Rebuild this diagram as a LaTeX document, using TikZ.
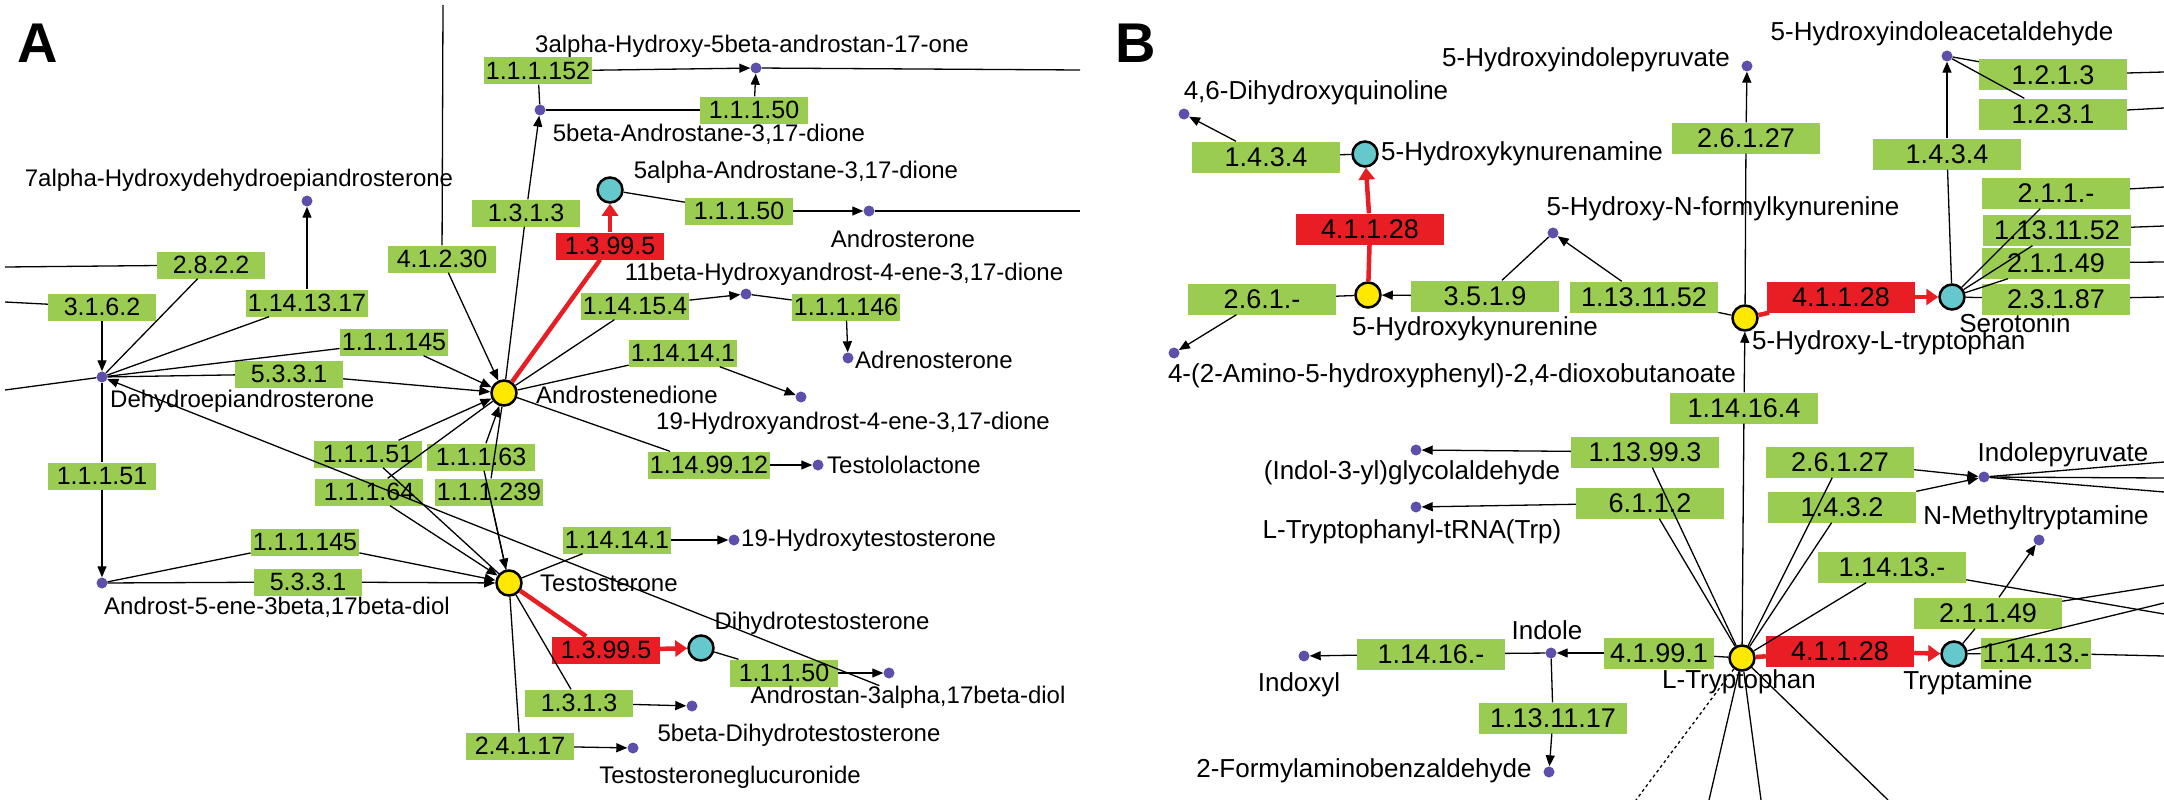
\documentclass[tikz,border=0pt]{standalone}
\usepackage{fontspec}
\setmainfont{Liberation Sans}
\usetikzlibrary{arrows.meta}
\definecolor{eg}{RGB}{155,204,82}
\definecolor{er}{RGB}{232,30,36}
\definecolor{dc}{RGB}{92,80,170}
\definecolor{cy}{RGB}{100,200,205}
\definecolor{yl}{RGB}{255,232,0}
\newcommand\lfA{\fontsize{24}{26}\selectfont}
\newcommand\lfB{\fontsize{26}{28}\selectfont}
\newcommand\bfA{\fontsize{25}{27}\selectfont}
\newcommand\bfB{\fontsize{27}{29}\selectfont}
\begin{document}
\begin{tikzpicture}[x=1pt,y=-1pt,
 bx/.style={fill=eg,inner xsep=2pt,inner ysep=0pt,minimum width=108pt,minimum height=27pt,font=\bfA},
 bxB/.style={bx,minimum width=148pt,minimum height=31pt,font=\bfB},
 rb/.style={bx,fill=er},
 rbB/.style={bxB,fill=er},
 dot/.style={circle,fill=dc,inner sep=0pt,minimum size=11pt},
 yn/.style={circle,fill=yl,draw=black,line width=2.5pt,inner sep=0pt,minimum size=25pt},
 cn/.style={yn,fill=cy},
 la/.style={inner sep=0pt,font=\lfA},
 lb/.style={inner sep=0pt,font=\lfB},
 e/.style={line width=1.3pt},
 a/.style={e,-{Triangle[length=11pt,width=9pt]}},
 re/.style={line width=4.5pt,er},
 ra/.style={re,-{Triangle[length=12pt,width=16pt]}}]
\useasboundingbox[fill=white] (0,0) rectangle (2164,800);
% ---------------- Panel A ----------------
\node[inner sep=0pt,font=\bfseries\fontsize{56}{56}\selectfont] (LA) at (38,43) {A};
\coordinate (tA) at (443,5);
\coordinate (rA1) at (1080,70);
\coordinate (rA2) at (1080,211);
\coordinate (lA1) at (5,267);
\coordinate (lA2) at (5,302);
\coordinate (lA3) at (5,364);
\coordinate (lA4) at (5,390);
\node[dot] (d3a) at (756,68) {};
\node[la] (l3a) at (752,46) {3alpha-Hydroxy-5beta-androstan-17-one};
\node[bx] (b152) at (538,71) {1.1.1.152};
\node[dot] (d5b) at (540,110) {};
\node[la] (l5b) at (709,134) {5beta-Androstane-3,17-dione};
\node[bx] (b150a) at (754,110) {1.1.1.50};
\node[la] (l7a) at (239,180) {7alpha-Hydroxydehydroepiandrosterone};
\node[dot] (d7a) at (307,201) {};
\node[cn] (c5a) at (610,190) {};
\node[la] (l5a) at (796,172) {5alpha-Androstane-3,17-dione};
\node[bx] (b150b) at (739,211) {1.1.1.50};
\node[dot] (dAnd) at (869,211) {};
\node[la] (lAnd) at (903,239) {Androsterone};
\node[rb] (r1) at (610,246) {1.3.99.5};
\node[bx] (b2822) at (211,265) {2.8.2.2};
\node[bx] (b4230) at (442,259) {4.1.2.30};
\node[bx] (b313a) at (526,213) {1.3.1.3};
\node[bx] (b3162) at (102,307) {3.1.6.2};
\node[bx] (b141317) at (307,303) {1.14.13.17};
\node[bx] (b14154) at (635,306) {1.14.15.4};
\node[dot] (d11b) at (746,294) {};
\node[la] (l11b) at (844,274) {11beta-Hydroxyandrost-4-ene-3,17-dione};
\node[bx] (b11146) at (846,307) {1.1.1.146};
\node[dot] (dAdr) at (848,358) {};
\node[la,anchor=west] (lAdr) at (855,360) {Adrenosterone};
\node[bx] (b11145a) at (394,342) {1.1.1.145};
\node[bx] (b5331a) at (289,374) {5.3.3.1};
\node[bx] (b14141a) at (683,353) {1.14.14.1};
\node[dot] (d19) at (801,397) {};
\node[la] (l19) at (853,423) {19-Hydroxyandrost-4-ene-3,17-dione};
\node[dot] (dDHEA) at (102,377) {};
\node[la,anchor=west] (lDHEA) at (110,401) {Dehydroepiandrosterone};
\node[yn] (yAnd) at (504,393) {};
\node[la,anchor=west] (lAndro) at (536,395) {Androstenedione};
\node[bx] (b141412) at (709,465) {1.14.99.12};
\node[dot] (dTest) at (818,465) {};
\node[la,anchor=west] (lTest) at (827,465) {Testololactone};
\node[bx] (b11151L) at (102,476) {1.1.1.51};
\node[dot] (dA5) at (102,583) {};
\node[la] (lA5) at (277,607) {Androst-5-ene-3beta,17beta-diol};
\node[bx] (b11151) at (368,454) {1.1.1.51};
\node[bx] (b11163) at (481,457) {1.1.1.63};
\node[bx] (b11164) at (369,492) {1.1.1.64};
\node[bx] (b111239) at (489,492) {1.1.1.239};
\node[yn] (yTes) at (509,583) {};
\node[la,anchor=west] (lTes) at (540,583) {Testosterone};
\node[bx] (b11145b) at (305,542) {1.1.1.145};
\node[bx] (b5331b) at (308,582) {5.3.3.1};
\node[bx] (b14141b) at (617,540) {1.14.14.1};
\node[dot] (d19T) at (734,540) {};
\node[la,anchor=west] (l19T) at (741,540) {19-Hydroxytestosterone};
\node[rb] (r2) at (606,650) {1.3.99.5};
\node[cn] (cDHT) at (701,648) {};
\node[la] (lDHT) at (822,623) {Dihydrotestosterone};
\node[bx] (b150c) at (784,673) {1.1.1.50};
\node[dot] (dA3) at (889,673) {};
\node[la] (lA3) at (908,697) {Androstan-3alpha,17beta-diol};
\node[bx] (b313b) at (579,703) {1.3.1.3};
\node[dot] (d5bD) at (692,706) {};
\node[la] (l5bD) at (799,735) {5beta-Dihydrotestosterone};
\node[bx] (b24117) at (520,746) {2.4.1.17};
\node[dot] (dTG) at (633,748) {};
\node[la] (lTG) at (730,777) {Testosteroneglucuronide};
% edges A
\draw[e] (tA) -- (b4230); \draw[a] (b4230) -- (yAnd);
\draw[a] (b152) -- (d3a); \draw[e] (d5b) -- (b152); \draw[e] (d3a) -- (rA1);
\draw[e] (d5b) -- (b150a); \draw[a] (b150a) -- (d3a);
\draw[e] (yAnd) -- (b313a); \draw[a] (b313a) -- (d5b);
\draw[re] (yAnd) -- (r1); \draw[ra] (r1) -- (c5a);
\draw[e] (c5a) -- (b150b); \draw[a] (b150b) -- (dAnd); \draw[e] (dAnd) -- (rA2);
\draw[e] (lA1) -- (b2822); \draw[e] (b2822) -- (dDHEA);
\draw[e] (lA2) -- (b3162); \draw[a] (b3162) -- (dDHEA);
\draw[e] (dDHEA) -- (b141317); \draw[a] (b141317) -- (d7a);
\draw[a] (lA3) -- (dDHEA); \draw[e] (lA4) -- (dDHEA);
\draw[e] (yAnd) -- (b14154); \draw[a] (b14154) -- (d11b);
\draw[e] (d11b) -- (b11146); \draw[a] (b11146) -- (dAdr);
\draw[e] (dDHEA) -- (b11145a); \draw[a] (b11145a) -- (yAnd);
\draw[e] (dDHEA) -- (b5331a); \draw[a] (b5331a) -- (yAnd);
\draw[e] (yAnd) -- (b14141a); \draw[a] (b14141a) -- (d19);
\draw[e] (yAnd) -- (b141412); \draw[a] (b141412) -- (dTest);
\draw[e] (dDHEA) -- (b11151L); \draw[a] (b11151L) -- (dA5);
\draw[e] (yTes) -- (b11151); \draw[a] (b11151) -- (yAnd);
\draw[e] (yTes) -- (b11163); \draw[a] (b11163) -- (yAnd);
\draw[e] (yAnd) -- (b11164); \draw[a] (b11164) -- (yTes);
\draw[e] (yAnd) -- (b111239); \draw[a] (b111239) -- (yTes);
\draw[e] (dA5) -- (b11145b); \draw[a] (b11145b) -- (yTes);
\draw[e] (dA5) -- (b5331b); \draw[a] (b5331b) -- (yTes);
\draw[e] (yTes) -- (b14141b); \draw[a] (b14141b) -- (d19T);
\draw[re] (yTes) -- (r2); \draw[ra] (r2) -- (cDHT);
\draw[e] (cDHT) -- (b150c); \draw[a] (b150c) -- (dA3);
\draw[e] (yTes) -- (b313b); \draw[a] (b313b) -- (d5bD);
\draw[e] (yTes) -- (b24117); \draw[a] (b24117) -- (dTG);
% ---------------- Panel B ----------------
\node[inner sep=0pt,font=\bfseries\fontsize{56}{56}\selectfont] (LB) at (1136,43) {B};
\node[lb] (l5HIA) at (1942,34) {5-Hydroxyindoleacetaldehyde};
\node[dot] (d5HIA) at (1947,56) {};
\node[bxB] (b1213) at (2053,75) {1.2.1.3};
\node[bxB] (b1231) at (2053,114) {1.2.3.1};
\node[lb] (l5HIP) at (1586,60) {5-Hydroxyindolepyruvate};
\node[dot] (d5HIP) at (1747,66) {};
\node[bxB] (b26127a) at (1746,138) {2.6.1.27};
\node[bxB] (b1434R) at (1947,154) {1.4.3.4};
\node[lb] (l46) at (1316,93) {4,6-Dihydroxyquinoline};
\node[dot] (d46) at (1184,114) {};
\node[bxB] (b1434L) at (1266,157) {1.4.3.4};
\node[cn] (c5HKA) at (1365,154) {};
\node[lb,anchor=west] (l5HKA) at (1381,154) {5-Hydroxykynurenamine};
\node[rbB] (r3) at (1370,229) {4.1.1.28};
\node[yn] (y5HK) at (1368,295) {};
\node[lb] (l5HK) at (1475,329) {5-Hydroxykynurenine};
\node[lb] (lNF) at (1723,209) {5-Hydroxy-N-formylkynurenine};
\node[dot] (dNF) at (1553,233) {};
\node[bxB] (b3519) at (1485,296) {3.5.1.9};
\node[bxB] (b131152a) at (1644,297) {1.13.11.52};
\node[bxB] (b261m) at (1262,299) {2.6.1.-};
\node[dot] (dAm) at (1174,353) {};
\node[lb] (lAm) at (1452,376) {4-(2-Amino-5-hydroxyphenyl)-2,4-dioxobutanoate};
\node[yn] (y5HTP) at (1745,318) {};
\node[lb,anchor=west] (l5HTP) at (1752,343) {5-Hydroxy-L-tryptophan};
\node[rbB] (r4) at (1841,297) {4.1.1.28};
\node[cn] (cSer) at (1952,297) {};
\node[lb] (lSer) at (2015,323) {Serotonin};
\node[bxB] (b211m) at (2056,193) {2.1.1.-};
\node[bxB] (b131152b) at (2057,230) {1.13.11.52};
\node[bxB] (b21149a) at (2056,263) {2.1.1.49};
\node[bxB] (b23187) at (2056,299) {2.3.1.87};
\node[bxB] (b14164) at (1744,408) {1.14.16.4};
\node[yn] (yTrp) at (1742,658) {};
\node[lb] (lTrp) at (1739,682) {L-Tryptophan};
\node[bxB] (b139993) at (1645,452) {1.13.99.3};
\node[dot] (dIG) at (1416,450) {};
\node[lb] (lIG) at (1412,473) {(Indol-3-yl)glycolaldehyde};
\node[bxB] (b6112) at (1650,503) {6.1.1.2};
\node[dot] (dTR) at (1416,507) {};
\node[lb] (lTR) at (1412,532) {L-Tryptophanyl-tRNA(Trp)};
\node[bxB] (b26127b) at (1840,462) {2.6.1.27};
\node[bxB] (b1432) at (1842,507) {1.4.3.2};
\node[dot] (dIP) at (1984,477) {};
\node[lb] (lIP) at (2063,455) {Indolepyruvate};
\node[lb] (lNM) at (2036,518) {N-Methyltryptamine};
\node[dot] (dNM) at (2039,540) {};
\node[bxB] (b11413a) at (1892,567) {1.14.13.-};
\node[bxB] (b21149b) at (1988,613) {2.1.1.49};
\node[cn] (cTry) at (1954,654) {};
\node[lb] (lTry) at (1968,683) {Tryptamine};
\node[bxB,minimum width=110pt] (b11413b) at (2036,653) {1.14.13.-};
\node[rbB] (r5) at (1840,651) {4.1.1.28};
\node[bxB,minimum width=110pt] (b41991) at (1659,653) {4.1.99.1};
\node[dot] (dInd) at (1551,653) {};
\node[lb] (lInd) at (1547,630) {Indole};
\node[bxB] (b14116) at (1431,654) {1.14.16.-};
\node[dot] (dIdx) at (1304,656) {};
\node[lb] (lIdx) at (1299,685) {Indoxyl};
\node[bxB] (b131117) at (1553,718) {1.13.11.17};
\node[dot] (dFA) at (1549,772) {};
\node[lb] (lFA) at (1364,771) {2-Formylaminobenzaldehyde};
\coordinate (rB1) at (2164,72);
\coordinate (rB2) at (2164,108);
\coordinate (rB3) at (2164,187);
\coordinate (rB4) at (2164,226);
\coordinate (rB5) at (2164,262);
\coordinate (rB6) at (2164,297);
\coordinate (rB7) at (2164,462);
\coordinate (rB8) at (2164,478);
\coordinate (rB9) at (2164,492);
\coordinate (rB10) at (2164,614);
\coordinate (rB11) at (2164,656);
\coordinate (rB12) at (2164,585);
\coordinate (rB13) at (2164,603);
\coordinate (bB1) at (1636,800);
\coordinate (bB2) at (1709,800);
\coordinate (bB3) at (1761,800);
\coordinate (bB4) at (1888,800);
% edges B
\draw[e] (d5HIA) -- (b1213); \draw[e] (b1213) -- (rB1);
\draw[e] (d5HIA) -- (b1231); \draw[e] (b1231) -- (rB2);
\draw[e] (cSer) -- (b1434R); \draw[a] (b1434R) -- (d5HIA);
\draw[e] (y5HTP) -- (b26127a); \draw[a] (b26127a) -- (d5HIP);
\draw[e] (c5HKA) -- (b1434L); \draw[a] (b1434L) -- (d46);
\draw[re] (y5HK) -- (r3); \draw[ra] (r3) -- (c5HKA);
\draw[e] (y5HTP) -- (b131152a); \draw[a] (b131152a) -- (dNF);
\draw[e] (dNF) -- (b3519); \draw[a] (b3519) -- (y5HK);
\draw[e] (y5HK) -- (b261m); \draw[a] (b261m) -- (dAm);
\draw[re] (y5HTP) -- (r4); \draw[ra] (r4) -- (cSer);
\draw[e] (cSer) -- (b211m); \draw[e] (b211m) -- (rB3);
\draw[e] (cSer) -- (b131152b); \draw[e] (b131152b) -- (rB4);
\draw[e] (cSer) -- (b21149a); \draw[e] (b21149a) -- (rB5);
\draw[e] (cSer) -- (b23187); \draw[e] (b23187) -- (rB6);
\draw[e] (yTrp) -- (b14164); \draw[a] (b14164) -- (y5HTP);
\draw[e] (yTrp) -- (b139993); \draw[a] (b139993) -- (dIG);
\draw[e] (yTrp) -- (b6112); \draw[a] (b6112) -- (dTR);
\draw[e] (yTrp) -- (b26127b); \draw[a] (b26127b) -- (dIP);
\draw[e] (yTrp) -- (b1432); \draw[a] (b1432) -- (dIP);
\draw[e] (dIP) -- (rB7); \draw[e] (dIP) -- (rB8); \draw[e] (dIP) -- (rB9);
\draw[e] (yTrp) -- (b11413a); \draw[e] (b11413a) -- (rB10);
\draw[e] (cTry) -- (b21149b); \draw[a] (b21149b) -- (dNM);
\draw[e] (b21149b) -- (rB12); \draw[e] (cTry) -- (rB13);
\draw[e] (cTry) -- (b11413b); \draw[e] (b11413b) -- (rB11);
\draw[re] (yTrp) -- (r5); \draw[ra] (r5) -- (cTry);
\draw[e] (yTrp) -- (b41991); \draw[a] (b41991) -- (dInd);
\draw[e] (dInd) -- (b14116); \draw[a] (b14116) -- (dIdx);
\draw[e] (dInd) -- (b131117); \draw[a] (b131117) -- (dFA);
\draw[e,dashed] (yTrp) -- (bB1);
\draw[e] (yTrp) -- (bB2); \draw[e] (yTrp) -- (bB3); \draw[e] (yTrp) -- (bB4);
\end{tikzpicture}
\end{document}
